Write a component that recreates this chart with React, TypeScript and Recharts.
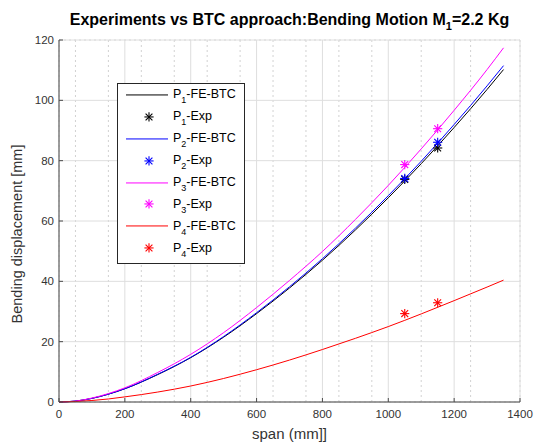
import React from 'react';
import { ComposedChart, Line, Scatter, XAxis, YAxis, CartesianGrid, Legend } from 'recharts';

// ---- data ----
const spans = [0, 50, 100, 150, 200, 300, 400, 500, 600, 700, 800, 900, 1000, 1100, 1200, 1300, 1350];
const p1FeBtc = [0, 0.3, 1.2, 2.6, 4.4, 9.1, 14.7, 21.5, 29.3, 37.8, 47.0, 57.0, 67.7, 79.0, 91.0, 103.6, 110.2];
const p2FeBtc = [0, 0.3, 1.2, 2.6, 4.4, 9.2, 14.8, 21.7, 29.6, 38.2, 47.5, 57.6, 68.4, 79.8, 92.0, 104.8, 111.5];
const p3FeBtc = [0, 0.3, 1.3, 2.8, 4.7, 9.8, 15.8, 23.0, 31.3, 40.3, 49.9, 60.5, 71.8, 83.9, 96.7, 110.2, 117.4];
const p4FeBtc = [0, 0.16, 0.5, 1.0, 1.7, 3.3, 5.3, 7.8, 10.7, 13.9, 17.4, 21.1, 25.0, 29.2, 33.6, 38.1, 40.4];

const expSpans = [1050, 1150];
const p1Exp = [73.8, 84.2];
const p2Exp = [74.1, 86.1];
const p3Exp = [78.7, 90.6];
const p4Exp = [29.3, 32.9];

const xTicks = [0, 200, 400, 600, 800, 1000, 1200, 1400];
const yTicks = [0, 20, 40, 60, 80, 100, 120];
const xMinorTicks = [0, 50, 100, 150, 200, 250, 300, 350, 400, 450, 500, 550, 600, 650, 700, 750, 800, 850, 900, 950, 1000, 1050, 1100, 1150, 1200, 1250, 1300, 1350, 1400];
const yMinorTicks = [0, 5, 10, 15, 20, 25, 30, 35, 40, 45, 50, 55, 60, 65, 70, 75, 80, 85, 90, 95, 100, 105, 110, 115, 120];

const seriesIndex = ['1', '2', '3', '4'];
const seriesColors = ['#000000', '#0000ff', '#ff00ff', '#ff0000'];
const lineKeys = ['p1', 'p2', 'p3', 'p4'];
const expSets = [p1Exp, p2Exp, p3Exp, p4Exp];

const titleMain = 'Experiments vs BTC approach:Bending Motion M';
const titleSub = '1';
const titleTail = '=2.2 Kg';
const xLabel = 'span (mm]]';
const yLabel = 'Bending displacement [mm]';

// ---- built tables ----
const lineTable = spans.map((x, i) => ({
  x,
  p1: p1FeBtc[i],
  p2: p2FeBtc[i],
  p3: p3FeBtc[i],
  p4: p4FeBtc[i],
}));
const expTables = expSets.map((vals) => expSpans.map((x, i) => ({ x, y: vals[i] })));

const FONT = '"Liberation Sans", Arial, Helvetica, sans-serif';
const AXIS = '#4a4a4a';
const TICKTXT = '#333333';

function Star({ cx, cy, color }: any) {
  if (cx == null || cy == null) return null;
  const r = 4.6;
  const d = 3.4;
  return (
    <g stroke={color} strokeWidth={1.1}>
      <line x1={cx - r} y1={cy} x2={cx + r} y2={cy} />
      <line x1={cx} y1={cy - r} x2={cx} y2={cy + r} />
      <line x1={cx - d} y1={cy - d} x2={cx + d} y2={cy + d} />
      <line x1={cx - d} y1={cy + d} x2={cx + d} y2={cy - d} />
    </g>
  );
}

const BottomTick = (p: any) => (
  <g>
    <line x1={p.x} y1={p.y} x2={p.x} y2={p.y - 4} stroke={AXIS} strokeWidth={1} />
    <text x={p.x} y={p.y + 16} textAnchor="middle" fontSize={11.5} fill={TICKTXT} fontFamily={FONT}>
      {p.payload.value}
    </text>
  </g>
);
const LeftTick = (p: any) => (
  <g>
    <line x1={p.x} y1={p.y} x2={p.x + 4} y2={p.y} stroke={AXIS} strokeWidth={1} />
    <text x={p.x - 5} y={p.y + 4} textAnchor="end" fontSize={11.5} fill={TICKTXT} fontFamily={FONT}>
      {p.payload.value}
    </text>
  </g>
);
const TopTick = (p: any) => (
  <line x1={p.x} y1={p.y} x2={p.x} y2={p.y + 4} stroke={AXIS} strokeWidth={1} />
);
const RightTick = (p: any) => (
  <line x1={p.x} y1={p.y} x2={p.x - 4} y2={p.y} stroke={AXIS} strokeWidth={1} />
);

const XLabel = (props: any) => {
  const vb = props.viewBox || {};
  return (
    <text x={(vb.x ?? 0) + (vb.width ?? 0) / 2} y={(vb.y ?? 0) + 37} textAnchor="middle" fontSize={15} fill={TICKTXT} fontFamily={FONT}>
      {xLabel}
    </text>
  );
};
const YLabel = (props: any) => {
  const vb = props.viewBox || {};
  const x = (vb.x ?? 0) + 22;
  const y = (vb.y ?? 0) + (vb.height ?? 0) / 2 + 13;
  return (
    <text x={x} y={y} transform={`rotate(-90 ${x} ${y})`} textAnchor="middle" fontSize={14.5} fill={TICKTXT} fontFamily={FONT}>
      {yLabel}
    </text>
  );
};

const ROW_H = 21.9;
function LegendBox() {
  const rows: { kind: 'line' | 'star'; i: number; tail: string }[] = [];
  seriesIndex.forEach((_, i) => {
    rows.push({ kind: 'line', i, tail: '-FE-BTC' });
    rows.push({ kind: 'star', i, tail: '-Exp' });
  });
  return (
    <div
      style={{
        width: 126,
        height: 179,
        border: '1px solid #262626',
        background: '#ffffff',
        fontFamily: FONT,
        fontSize: 12.5,
        color: '#000',
        boxSizing: 'content-box',
      }}
    >
      {rows.map((r, k) => (
        <div key={k} style={{ height: ROW_H, display: 'flex', alignItems: 'center', position: 'relative' }}>
          <svg width={55} height={ROW_H} style={{ display: 'block', flex: 'none' }}>
            {r.kind === 'line' ? (
              <line x1={8} y1={ROW_H / 2} x2={50} y2={ROW_H / 2} stroke={seriesColors[r.i]} strokeWidth={1} />
            ) : (
              <Star cx={31} cy={ROW_H / 2} color={seriesColors[r.i]} />
            )}
          </svg>
          <span style={{ whiteSpace: 'nowrap', lineHeight: '14px' }}>
            P
            <span style={{ fontSize: 9, position: 'relative', top: 5 }}>{seriesIndex[r.i]}</span>
            {r.tail}
          </span>
        </div>
      ))}
    </div>
  );
}

export default function App() {
  return (
    <div style={{ position: 'absolute', left: 0, top: 0, width: 535, height: 446, background: '#fff' }}>
      <div
        style={{
          position: 'absolute',
          left: 39,
          top: 11,
          width: 501,
          textAlign: 'center',
          fontFamily: FONT,
          fontSize: 16,
          fontWeight: 'bold',
          lineHeight: '18px',
          color: '#000',
          whiteSpace: 'nowrap',
          zIndex: 2,
        }}
      >
        {titleMain}
        <span style={{ fontSize: 11, position: 'relative', top: 5 }}>{titleSub}</span>
        {titleTail}
      </div>
      <ComposedChart
        width={535}
        height={446}
        data={lineTable}
        margin={{ top: 40, right: 15, bottom: 0, left: 0 }}
        style={{ fontFamily: FONT }}
      >
        <XAxis xAxisId="minor" type="number" dataKey="x" domain={[0, 1400]} ticks={xMinorTicks} hide />
        <YAxis yAxisId="minor" type="number" domain={[0, 120]} ticks={yMinorTicks} hide />
        <CartesianGrid xAxisId="minor" yAxisId="minor" stroke="#d2d2d2" strokeDasharray="2 3" />
        <CartesianGrid stroke="#dedede" />
        <XAxis
          type="number"
          dataKey="x"
          domain={[0, 1400]}
          ticks={xTicks}
          interval={0}
          height={44}
          tickSize={0}
          tickMargin={0}
          tickLine={false}
          tick={BottomTick}
          axisLine={{ stroke: AXIS, strokeWidth: 1 }}
          label={XLabel}
        />
        <XAxis
          xAxisId="top"
          orientation="top"
          type="number"
          dataKey="x"
          domain={[0, 1400]}
          ticks={xTicks}
          interval={0}
          height={0}
          tickSize={0}
          tickMargin={0}
          tickLine={false}
          tick={TopTick}
          axisLine={{ stroke: AXIS, strokeWidth: 1 }}
        />
        <YAxis
          type="number"
          domain={[0, 120]}
          ticks={yTicks}
          interval={0}
          width={59}
          tickSize={0}
          tickMargin={0}
          tickLine={false}
          tick={LeftTick}
          axisLine={{ stroke: AXIS, strokeWidth: 1 }}
          label={YLabel}
        />
        <YAxis
          yAxisId="right"
          orientation="right"
          type="number"
          domain={[0, 120]}
          ticks={yTicks}
          interval={0}
          width={0}
          tickSize={0}
          tickMargin={0}
          tickLine={false}
          tick={RightTick}
          axisLine={{ stroke: AXIS, strokeWidth: 1 }}
        />
        {lineKeys.map((k, i) => [
          <Line
            key={k}
            type="monotone"
            dataKey={k}
            stroke={seriesColors[i]}
            strokeWidth={1}
            dot={false}
            activeDot={false}
            isAnimationActive={false}
          />,
          <Scatter
            key={k + 'exp'}
            data={expTables[i]}
            dataKey="y"
            fill={seriesColors[i]}
            isAnimationActive={false}
            shape={(p: any) => <Star cx={p.cx} cy={p.cy} color={seriesColors[i]} />}
          />,
        ])}
        <Legend
          layout="vertical"
          align="center"
          verticalAlign="middle"
          content={() => <LegendBox />}
          wrapperStyle={{ left: 117, top: 83, width: 128, height: 181 }}
        />
      </ComposedChart>
    </div>
  );
}
